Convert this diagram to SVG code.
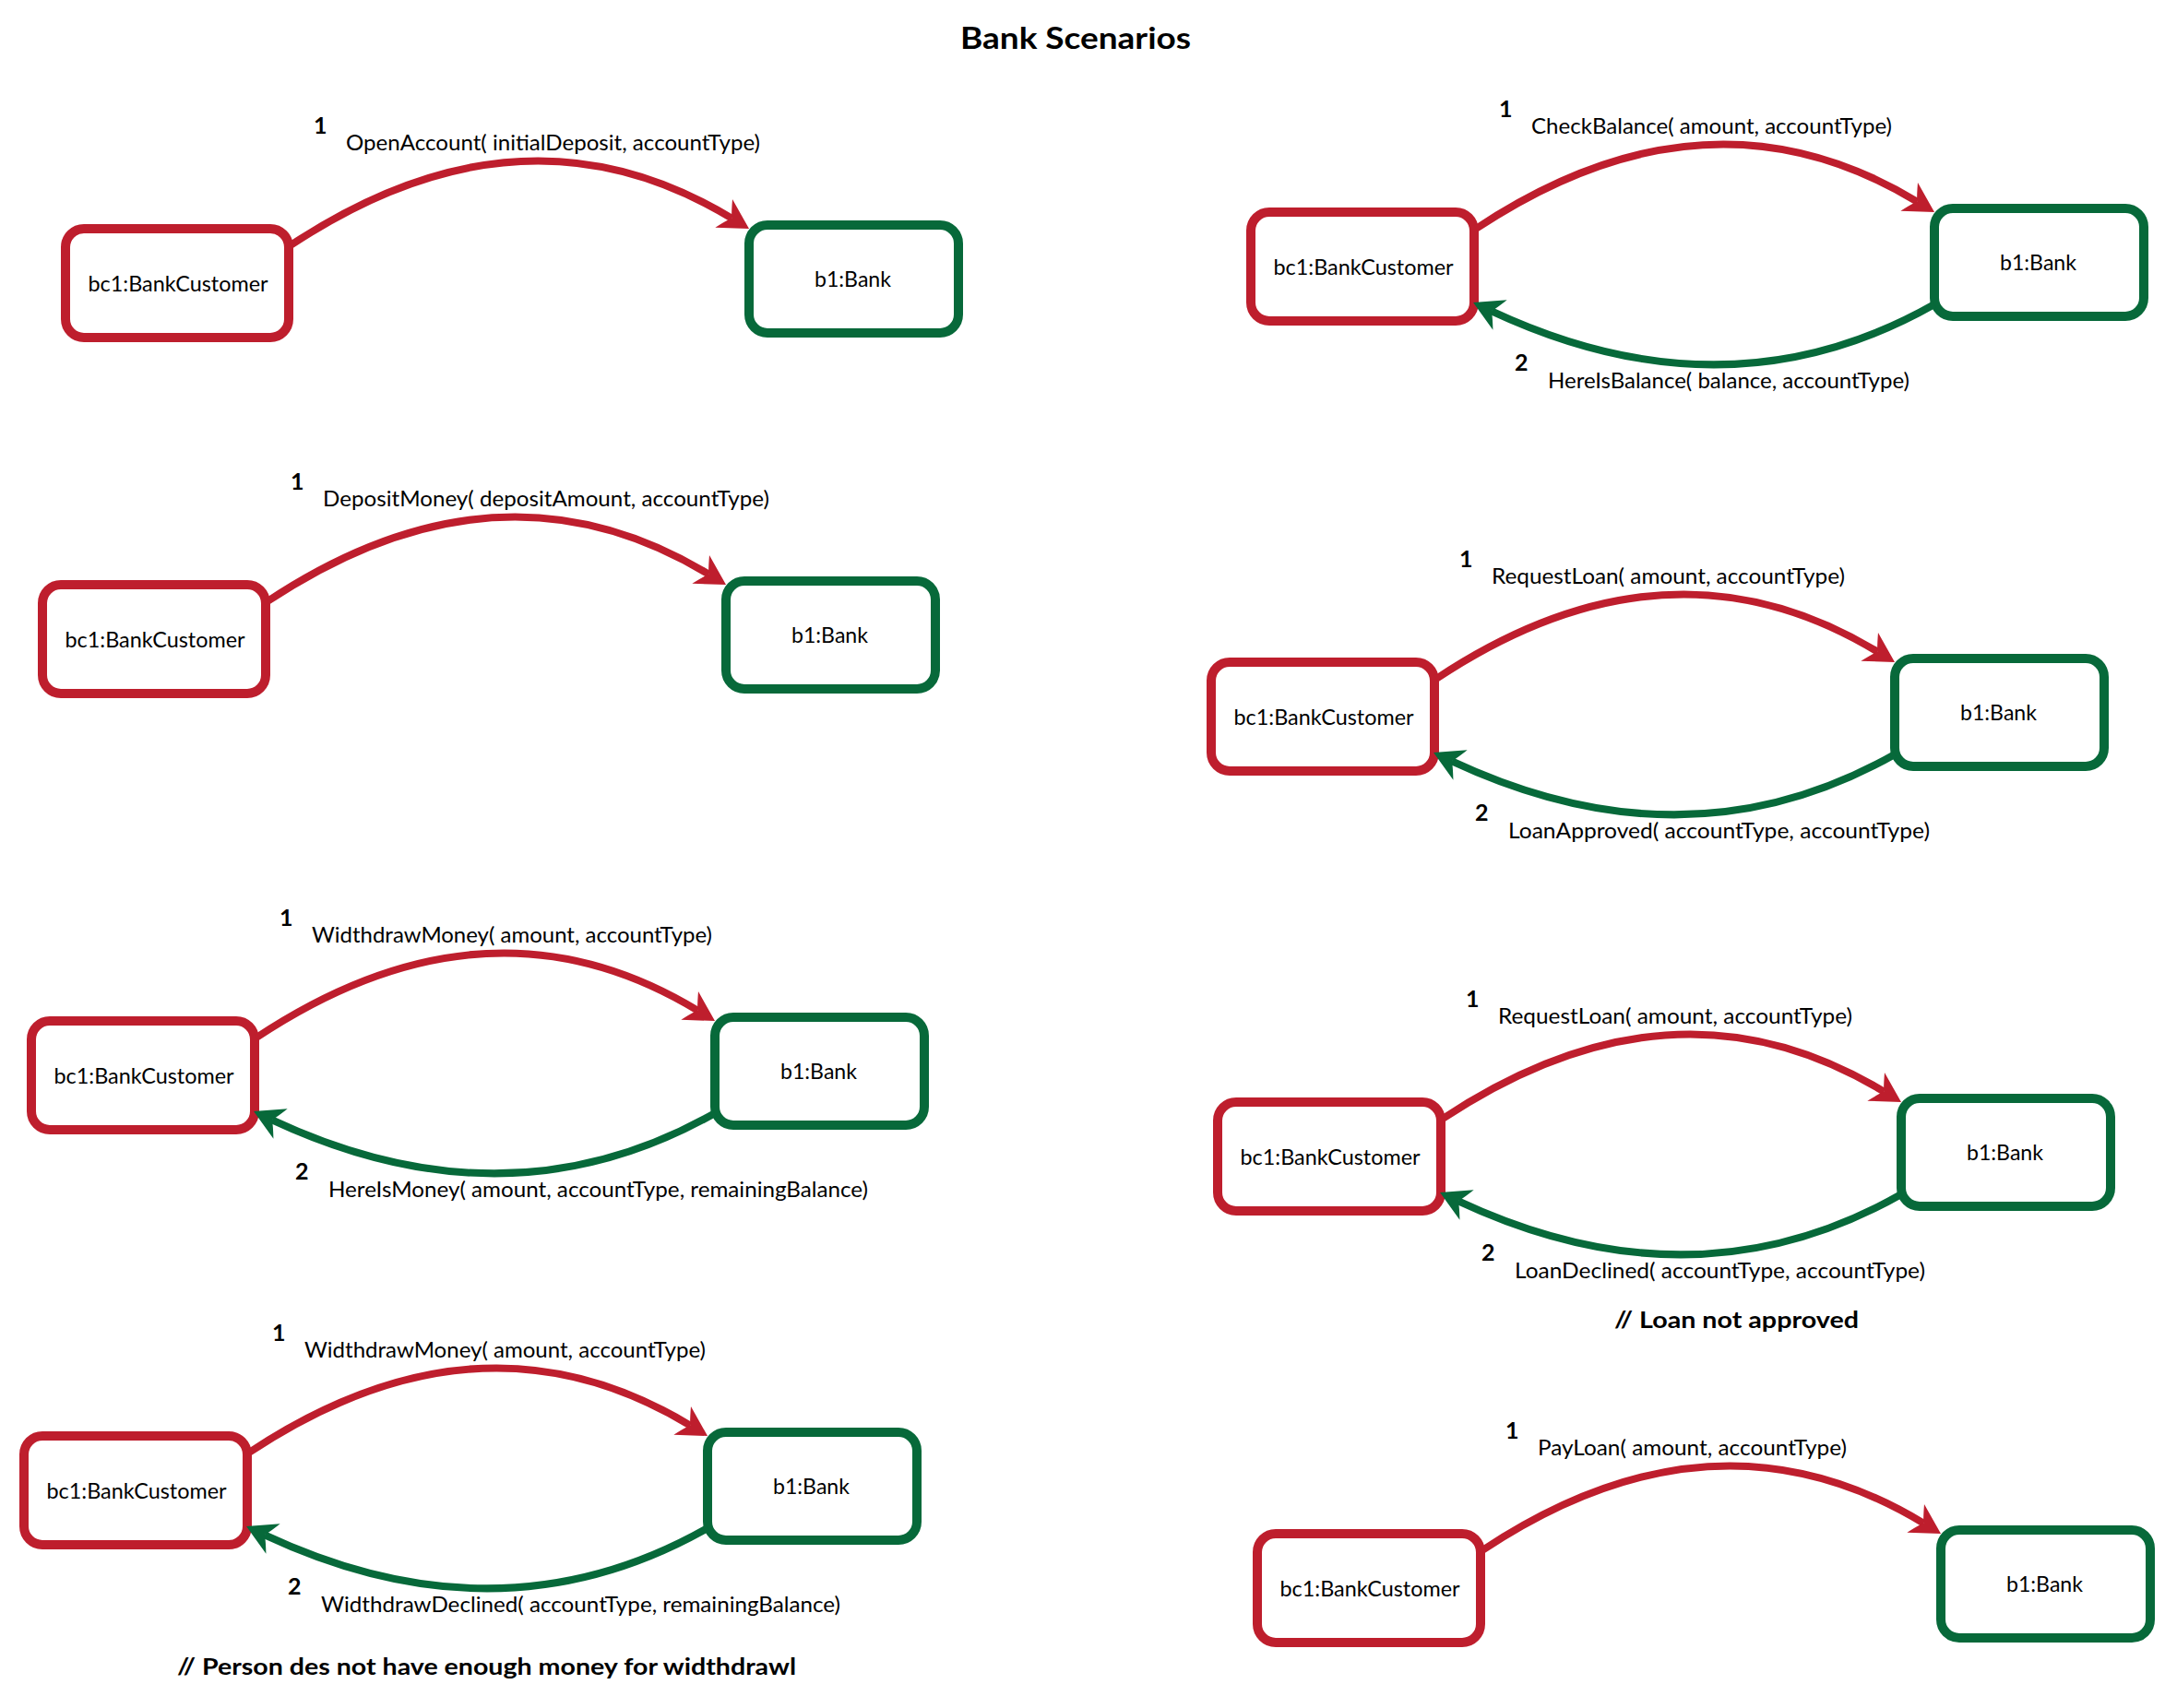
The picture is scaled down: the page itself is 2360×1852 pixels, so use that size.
<svg xmlns="http://www.w3.org/2000/svg" width="2360" height="1852" viewBox="0 0 2360 1852">
<style>
  text { font-family: Lato, "Open Sans", "Liberation Sans", sans-serif; fill: #000; }
  .lbl { font-size: 24px; }
  .num { font-size: 25px; font-weight: bold; }
  .cmt { font-size: 24px; font-weight: bold; }
  .title { font-size: 33px; font-weight: bold; }
  .cust rect { fill: #fff; stroke: #BE1E2D; stroke-width: 10; }
  .bank rect { fill: #fff; stroke: #07693A; stroke-width: 10; }
  .node text { font-size: 24px; text-anchor: middle; }
  .req { fill: none; stroke: #BE1E2D; stroke-width: 8; marker-end: url(#ahR); }
  .rep { fill: none; stroke: #07693A; stroke-width: 8; marker-end: url(#ahG); }
</style>
<defs>
  <marker id="ahR" markerUnits="userSpaceOnUse" viewBox="-12 -20 36 40" refX="0" refY="0" markerWidth="36" markerHeight="40" orient="auto">
    <path d="M22,0 L-10,-18 Q-4,-6 0,0 Q-4,6 -10,18 Z" fill="#BE1E2D"/>
  </marker>
  <marker id="ahG" markerUnits="userSpaceOnUse" viewBox="-12 -20 36 40" refX="0" refY="0" markerWidth="36" markerHeight="40" orient="auto">
    <path d="M22,0 L-10,-18 Q-4,-6 0,0 Q-4,6 -10,18 Z" fill="#07693A"/>
  </marker>
</defs>
<rect width="2360" height="1852" fill="#fff"/>
<text class="title" x="1041" y="53" textLength="250" lengthAdjust="spacingAndGlyphs">Bank Scenarios</text>

<!-- Nodes -->
<g id="s1-customer" class="node cust" transform="translate(66,243)"><rect x="5" y="5" width="242" height="118" rx="20"/><text x="127" y="73" textLength="195" lengthAdjust="spacingAndGlyphs">bc1:BankCustomer</text></g>
<g id="s1-bank" class="node bank" transform="translate(66,243)"><rect x="746" y="1" width="227" height="117" rx="20"/><text x="858.5" y="68" textLength="83" lengthAdjust="spacingAndGlyphs">b1:Bank</text></g>

<g id="s2-customer" class="node cust" transform="translate(1351,225)"><rect x="5" y="5" width="242" height="118" rx="20"/><text x="127" y="73" textLength="195" lengthAdjust="spacingAndGlyphs">bc1:BankCustomer</text></g>
<g id="s2-bank" class="node bank" transform="translate(1351,225)"><rect x="746" y="1" width="227" height="117" rx="20"/><text x="858.5" y="68" textLength="83" lengthAdjust="spacingAndGlyphs">b1:Bank</text></g>

<g id="s3-customer" class="node cust" transform="translate(41,629)"><rect x="5" y="5" width="242" height="118" rx="20"/><text x="127" y="73" textLength="195" lengthAdjust="spacingAndGlyphs">bc1:BankCustomer</text></g>
<g id="s3-bank" class="node bank" transform="translate(41,629)"><rect x="746" y="1" width="227" height="117" rx="20"/><text x="858.5" y="68" textLength="83" lengthAdjust="spacingAndGlyphs">b1:Bank</text></g>

<g id="s4-customer" class="node cust" transform="translate(1308,713)"><rect x="5" y="5" width="242" height="118" rx="20"/><text x="127" y="73" textLength="195" lengthAdjust="spacingAndGlyphs">bc1:BankCustomer</text></g>
<g id="s4-bank" class="node bank" transform="translate(1308,713)"><rect x="746" y="1" width="227" height="117" rx="20"/><text x="858.5" y="68" textLength="83" lengthAdjust="spacingAndGlyphs">b1:Bank</text></g>

<g id="s5-customer" class="node cust" transform="translate(29,1102)"><rect x="5" y="5" width="242" height="118" rx="20"/><text x="127" y="73" textLength="195" lengthAdjust="spacingAndGlyphs">bc1:BankCustomer</text></g>
<g id="s5-bank" class="node bank" transform="translate(29,1102)"><rect x="746" y="1" width="227" height="117" rx="20"/><text x="858.5" y="68" textLength="83" lengthAdjust="spacingAndGlyphs">b1:Bank</text></g>

<g id="s6-customer" class="node cust" transform="translate(1315,1190)"><rect x="5" y="5" width="242" height="118" rx="20"/><text x="127" y="73" textLength="195" lengthAdjust="spacingAndGlyphs">bc1:BankCustomer</text></g>
<g id="s6-bank" class="node bank" transform="translate(1315,1190)"><rect x="746" y="1" width="227" height="117" rx="20"/><text x="858.5" y="68" textLength="83" lengthAdjust="spacingAndGlyphs">b1:Bank</text></g>

<g id="s7-customer" class="node cust" transform="translate(21,1552)"><rect x="5" y="5" width="242" height="118" rx="20"/><text x="127" y="73" textLength="195" lengthAdjust="spacingAndGlyphs">bc1:BankCustomer</text></g>
<g id="s7-bank" class="node bank" transform="translate(21,1552)"><rect x="746" y="1" width="227" height="117" rx="20"/><text x="858.5" y="68" textLength="83" lengthAdjust="spacingAndGlyphs">b1:Bank</text></g>

<g id="s8-customer" class="node cust" transform="translate(1358,1658)"><rect x="5" y="5" width="242" height="118" rx="20"/><text x="127" y="73" textLength="195" lengthAdjust="spacingAndGlyphs">bc1:BankCustomer</text></g>
<g id="s8-bank" class="node bank" transform="translate(1358,1658)"><rect x="746" y="1" width="227" height="117" rx="20"/><text x="858.5" y="68" textLength="83" lengthAdjust="spacingAndGlyphs">b1:Bank</text></g>

<!-- Connectors -->
<g id="connectors">
  <path class="req" transform="translate(66,243)" d="M249,23 Q500.5,-144 727.2,-6.4"/>
  <path class="req" transform="translate(1351,225)" d="M249,23 Q500.5,-144 727.2,-6.4"/>
  <path class="rep" transform="translate(1351,225)" d="M746,105 Q522,232 266,112.3"/>
  <path class="req" transform="translate(41,629)" d="M249,23 Q500.5,-144 727.2,-6.4"/>
  <path class="req" transform="translate(1308,713)" d="M249,23 Q500.5,-144 727.2,-6.4"/>
  <path class="rep" transform="translate(1308,713)" d="M746,105 Q522,232 266,112.3"/>
  <path class="req" transform="translate(29,1102)" d="M249,23 Q500.5,-144 727.2,-6.4"/>
  <path class="rep" transform="translate(29,1102)" d="M746,105 Q522,232 266,112.3"/>
  <path class="req" transform="translate(1315,1190)" d="M249,23 Q500.5,-144 727.2,-6.4"/>
  <path class="rep" transform="translate(1315,1190)" d="M746,105 Q522,232 266,112.3"/>
  <path class="req" transform="translate(21,1552)" d="M249,23 Q500.5,-144 727.2,-6.4"/>
  <path class="rep" transform="translate(21,1552)" d="M746,105 Q522,232 266,112.3"/>
  <path class="req" transform="translate(1358,1658)" d="M249,23 Q500.5,-144 727.2,-6.4"/>

  <g id="connector-labels">
    <g transform="translate(66,243)">
      <text class="num" x="274" y="-98">1</text>
      <text class="lbl" x="309" y="-80" textLength="449" lengthAdjust="spacingAndGlyphs">OpenAccount( initialDeposit, accountType)</text>
    </g>
    <g transform="translate(1351,225)">
      <text class="num" x="274" y="-98">1</text>
      <text class="lbl" x="309" y="-80" textLength="391" lengthAdjust="spacingAndGlyphs">CheckBalance( amount, accountType)</text>
      <text class="num" x="291" y="177">2</text>
      <text class="lbl" x="327" y="196" textLength="392" lengthAdjust="spacingAndGlyphs">HereIsBalance( balance, accountType)</text>
    </g>
    <g transform="translate(41,629)">
      <text class="num" x="274" y="-98">1</text>
      <text class="lbl" x="309" y="-80" textLength="484" lengthAdjust="spacingAndGlyphs">DepositMoney( depositAmount, accountType)</text>
    </g>
    <g transform="translate(1308,713)">
      <text class="num" x="274" y="-98">1</text>
      <text class="lbl" x="309" y="-80" textLength="383" lengthAdjust="spacingAndGlyphs">RequestLoan( amount, accountType)</text>
      <text class="num" x="291" y="177">2</text>
      <text class="lbl" x="327" y="196" textLength="457" lengthAdjust="spacingAndGlyphs">LoanApproved( accountType, accountType)</text>
    </g>
    <g transform="translate(29,1102)">
      <text class="num" x="274" y="-98">1</text>
      <text class="lbl" x="309" y="-80" textLength="434" lengthAdjust="spacingAndGlyphs">WidthdrawMoney( amount, accountType)</text>
      <text class="num" x="291" y="177">2</text>
      <text class="lbl" x="327" y="196" textLength="585" lengthAdjust="spacingAndGlyphs">HereIsMoney( amount, accountType, remainingBalance)</text>
    </g>
    <g transform="translate(1315,1190)">
      <text class="num" x="274" y="-98">1</text>
      <text class="lbl" x="309" y="-80" textLength="384" lengthAdjust="spacingAndGlyphs">RequestLoan( amount, accountType)</text>
      <text class="num" x="291" y="177">2</text>
      <text class="lbl" x="327" y="196" textLength="445" lengthAdjust="spacingAndGlyphs">LoanDeclined( accountType, accountType)</text>
    </g>
    <g transform="translate(21,1552)">
      <text class="num" x="274" y="-98">1</text>
      <text class="lbl" x="309" y="-80" textLength="435" lengthAdjust="spacingAndGlyphs">WidthdrawMoney( amount, accountType)</text>
      <text class="num" x="291" y="177">2</text>
      <text class="lbl" x="327" y="196" textLength="563" lengthAdjust="spacingAndGlyphs">WidthdrawDeclined( accountType, remainingBalance)</text>
    </g>
    <g transform="translate(1358,1658)">
      <text class="num" x="274" y="-98">1</text>
      <text class="lbl" x="309" y="-80" textLength="335" lengthAdjust="spacingAndGlyphs">PayLoan( amount, accountType)</text>
    </g>
  </g>
</g>

<!-- Comments -->
<text class="cmt" x="1750" y="1440" textLength="265" lengthAdjust="spacingAndGlyphs">// Loan not approved</text>
<text class="cmt" x="192" y="1816" textLength="671" lengthAdjust="spacingAndGlyphs">// Person des not have enough money for widthdrawl</text>
</svg>
